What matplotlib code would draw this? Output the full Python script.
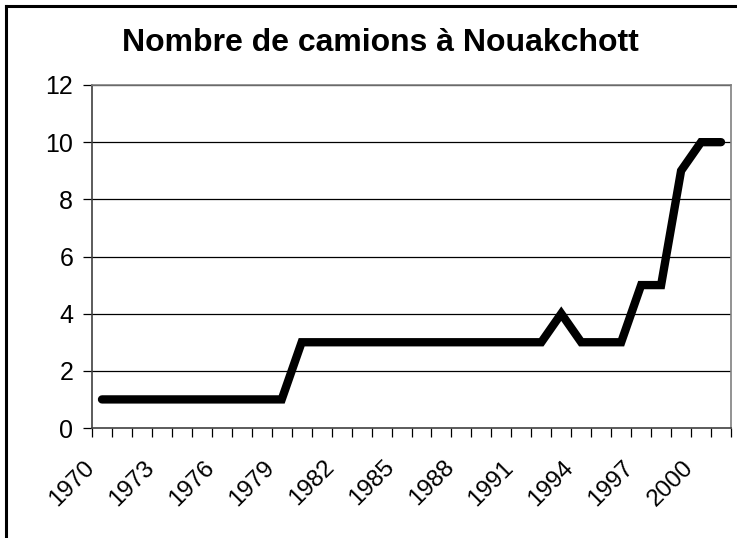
import matplotlib
matplotlib.use('Agg')
import matplotlib.pyplot as plt
import matplotlib.transforms as mtransforms
from matplotlib.lines import Line2D

plt.rcParams['font.family'] = ['Liberation Sans', 'DejaVu Sans']

years = list(range(1970, 2002))
camions = [1, 1, 1, 1, 1, 1, 1, 1, 1, 1,
           3, 3, 3, 3, 3, 3, 3, 3, 3, 3,
           3, 3, 3, 4, 3, 3, 3, 5, 5, 9,
           10, 10]
yticks = [0, 2, 4, 6, 8, 10, 12]

fig = plt.figure(figsize=(7.37, 5.38), dpi=100)
ax = fig.add_axes([92 / 737, 1 - 428 / 538, (731 - 92) / 737, (428 - 85) / 538])

x = list(range(len(years)))
ax.plot(x, camions, color='black', lw=6, solid_capstyle='round', solid_joinstyle='miter')

ax.set_xlim(-0.5, len(years) - 0.5)
ax.set_ylim(0, 12)
ax.set_yticks(yticks)
ax.set_yticklabels([str(v) for v in yticks], fontsize=18)
for v in yticks[1:]:
    ax.axhline(v, color='black', lw=0.9, zorder=0)

# labels every 3 years, tick marks between categories
ax.set_xticks(x[::3])
ax.set_xticklabels([str(y) for y in years[::3]], fontsize=17.5, rotation=45,
                   ha='right', va='center', rotation_mode='anchor')
ax.set_xticks([i - 0.5 for i in range(len(years) + 1)], minor=True)
ax.tick_params(axis='x', which='major', length=0, pad=26)
ax.tick_params(axis='x', which='minor', length=6.5, width=0.9, direction='out')
ax.tick_params(axis='y', length=6.5, width=0.9, direction='out', pad=7)

shift = mtransforms.ScaledTranslation(-11 / 100, 0, fig.dpi_scale_trans)
for lab in ax.get_xticklabels():
    lab.set_transform(lab.get_transform() + shift)

for s in ax.spines.values():
    s.set_color('#808080')
    s.set_linewidth(1.2)
ax.spines['left'].set_color('#404040')
ax.spines['bottom'].set_color('#404040')

fig.text(380 / 737, 1 - 43 / 538, 'Nombre de camions à Nouakchott', fontsize=23,
         fontweight='bold', ha='center', va='center')

# chart frame (left and top edges are visible)
fig.add_artist(Line2D([6 / 737, 6 / 737], [0, 1 - 6 / 538], transform=fig.transFigure,
                      color='black', lw=2.2))
fig.add_artist(Line2D([6 / 737, 1], [1 - 6 / 538, 1 - 6 / 538], transform=fig.transFigure,
                      color='black', lw=2.2))

fig.savefig('out.png', dpi=100)
